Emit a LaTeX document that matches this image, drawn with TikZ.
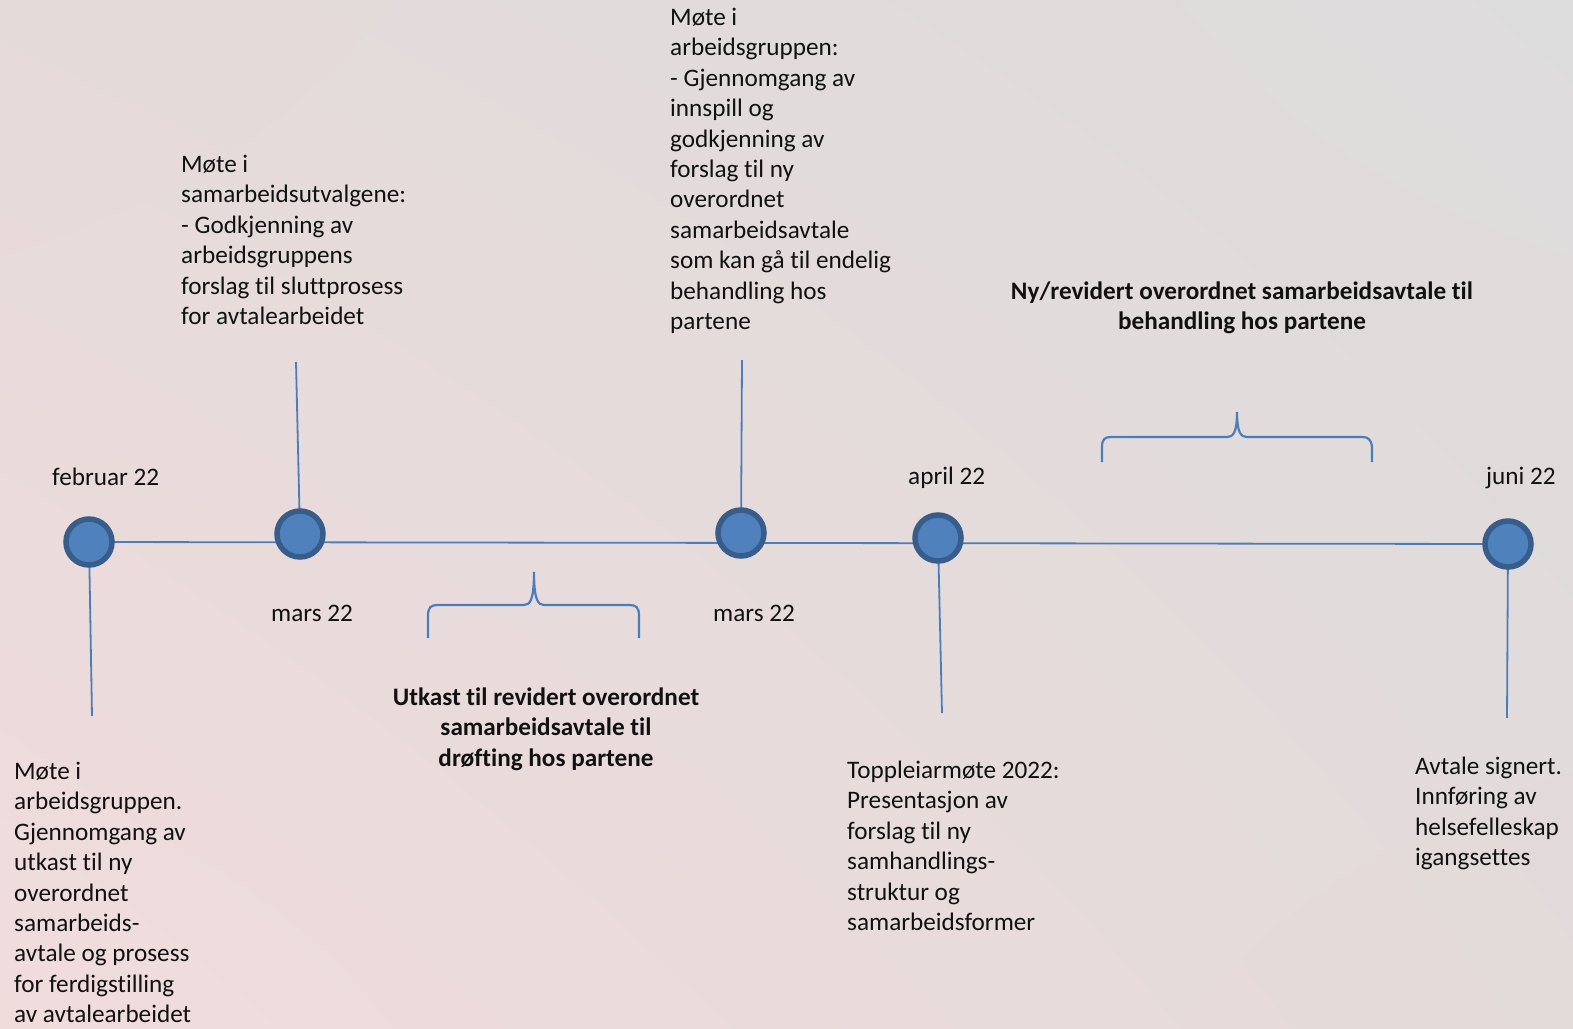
\documentclass[tikz,border=0pt]{standalone}
\usepackage{fontspec}
\setmainfont{Carlito}[Ligatures={NoCommon,NoContextual},RawFeature={-liga;-clig;-calt;-dlig}]
\usetikzlibrary{shadings}
\definecolor{dotfill}{HTML}{4F81BD}
\definecolor{dotedge}{HTML}{385D8A}
\definecolor{tline}{HTML}{4A7EBB}
\definecolor{txt}{HTML}{111111}
\definecolor{bgul}{RGB}{229,218,218}
\definecolor{bgll}{RGB}{241,220,220}
\definecolor{bgur}{RGB}{221,220,220}
\definecolor{bglr}{RGB}{227,218,218}
\begin{document}
\begin{tikzpicture}[x=1pt,y=-1pt,
  dot/.style={circle,fill=dotfill,draw=dotedge,line width=5.5pt,minimum size=46pt,inner sep=0pt},
  tl/.style={draw=tline,line width=1.8pt},
  brace/.style={draw=tline,line width=2.2pt},
  body/.style={font=\fontsize{25.2}{30.4}\selectfont,text=txt,inner sep=0pt,align=left,anchor=north west},
  bodyb/.style={font=\fontsize{25.2}{30.4}\selectfont\bfseries,text=txt,inner sep=0pt,align=center,anchor=north},
  date/.style={font=\fontsize{25.2}{30.4}\selectfont,text=txt,inner sep=0pt,anchor=base west}]
\shade[upper left=bgul, lower left=bgll, upper right=bgur, lower right=bglr] (0,0) rectangle (1573,1028);
\useasboundingbox (0,0) rectangle (1573,1028);
% positions
\coordinate (p1) at (89,542);
\coordinate (p2) at (300,534);
\coordinate (p3) at (741,533);
\coordinate (p4) at (938,538);
\coordinate (p5) at (1508,544);
\coordinate (e1) at (92,716);
\coordinate (e2) at (296,362);
\coordinate (e3) at (742,360);
\coordinate (e4) at (942,713);
\coordinate (e5) at (1507,718);
% timeline
\draw[tl] (p1) -- (p5);
\draw[tl] (p1) -- (e1);
\draw[tl] (p2) -- (e2);
\draw[tl] (p3) -- (e3);
\draw[tl] (p4) -- (e4);
\draw[tl] (p5) -- (e5);
\node[dot] (c1) at (p1) {};
\node[dot] (c2) at (p2) {};
\node[dot] (c3) at (p3) {};
\node[dot] (c4) at (p4) {};
\node[dot] (c5) at (p5) {};
% braces
\draw[brace] (428,638) -- (428,616) .. controls (428,607) and (431,605) .. (438,605)
  -- (524,605) .. controls (530,605) and (534,600) .. (534,572)
  .. controls (534,600) and (538,605) .. (544,605) -- (629,605)
  .. controls (636,605) and (639,607) .. (639,616) -- (639,638);
\draw[brace] (1102,462) -- (1102,447) .. controls (1102,439) and (1105,437) .. (1111,437)
  -- (1227,437) .. controls (1233,437) and (1237,433) .. (1237,412)
  .. controls (1237,433) and (1241,437) .. (1247,437) -- (1362,437)
  .. controls (1368,437) and (1371,439) .. (1372,447) -- (1372,462);
% dates
\node[date] (d1) at (52,485) {februar 22};
\node[date] (d2) at (271,621) {mars 22};
\node[date] (d3) at (713,621) {mars 22};
\node[date] (d4) at (908,484) {april 22};
\node[date] (d5) at (1486,484) {juni 22};
% texts
\node[body] (t1) at (181,151) {\strut Møte i\\samarbeidsutvalgene:\\- Godkjenning av\\arbeidsgruppens\\forslag til sluttprosess\\for avtalearbeidet};
\node[body] (t2) at (670,4) {\strut Møte i\\arbeidsgruppen:\\- Gjennomgang av\\innspill og\\godkjenning av\\forslag til ny\\overordnet\\samarbeidsavtale\\som kan gå til endelig\\behandling hos\\partene};
\node[bodyb] (t3) at (1242,278) {\strut Ny/revidert overordnet samarbeidsavtale til\\behandling hos partene};
\node[bodyb] (t4) at (546,684) {\strut Utkast til revidert overordnet\\samarbeidsavtale til\\drøfting hos partene};
\node[body] (t5) at (14,758) {\strut Møte i\\arbeidsgruppen.\\Gjennomgang av\\utkast til ny\\overordnet\\samarbeids-\\avtale og prosess\\for ferdigstilling\\av avtalearbeidet};
\node[body] (t6) at (847,757) {\strut Toppleiarmøte 2022:\\Presentasjon av\\forslag til ny\\samhandlings-\\struktur og\\samarbeidsformer};
\node[body] (t7) at (1415,753) {\strut Avtale signert.\\Innføring av\\helsefelleskap\\igangsettes};
\end{tikzpicture}
\end{document}
